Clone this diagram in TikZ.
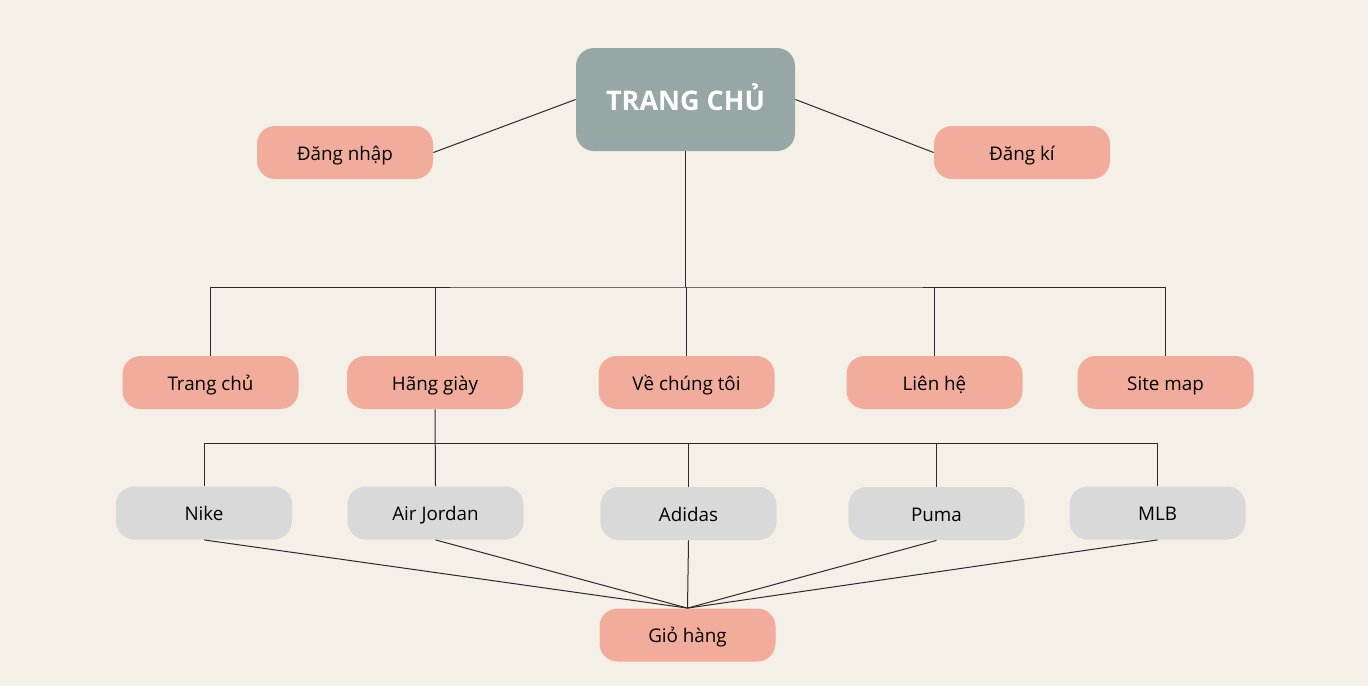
\documentclass[tikz,border=0pt]{standalone}
\usepackage{fontspec}
\setmainfont{Open Sans}
\usetikzlibrary{positioning}
\definecolor{bgcol}{HTML}{F4F0E8}
\definecolor{salmon}{HTML}{F2AC9B}
\definecolor{greybox}{HTML}{D9D9D9}
\definecolor{topcol}{HTML}{96A7A5}
\definecolor{linecol}{HTML}{2A2A2A}
\tikzset{
	pagebox/.style={fill=salmon, rounded corners=9pt, minimum width=88pt, minimum height=26.5pt, inner sep=0pt, text height=9pt, text depth=1.5pt, font=\fontsize{9.4}{11}\selectfont},
	brandbox/.style={pagebox, fill=greybox},
	link/.style={draw=linecol, line width=0.5pt}
}
\begin{document}
\begin{tikzpicture}[x=0.5pt,y=-0.5pt]
	\useasboundingbox[fill=bgcol] (0,0) rectangle (1368,686);
	\node[fill=topcol, rounded corners=9pt, minimum width=109.5pt, minimum height=51.5pt, inner sep=0pt, text height=12pt, text depth=1.5pt, text=white, font=\fontsize{13.5}{15}\bfseries\selectfont] (home) at (685.5,99.5){TRANG CHỦ};
	\node[pagebox] (login) at (345,152.5){Đăng nhập};%left
	\node[pagebox] (signup) at (1022,152.5){Đăng kí};%right
	\node[pagebox] (main) at (210.5,382.5){Trang chủ};
	\node[pagebox] (brands) at (435,382.5){Hãng giày};
	\node[pagebox] (about) at (686.5,382.5){Về chúng tôi};
	\node[pagebox] (contact) at (934.5,382.5){Liên hệ};
	\node[pagebox] (sitemap) at (1165.5,382.5){Site map};
	\node[brandbox] (nike) at (204,513){Nike};
	\node[brandbox] (jordan) at (435.5,513){Air Jordan};
	\node[brandbox] (adidas) at (688.5,513.5){Adidas};
	\node[brandbox] (puma) at (936.5,513.5){Puma};
	\node[brandbox] (mlb) at (1157.5,513){MLB};
	\node[pagebox] (cart) at (687.5,635){Giỏ hàng};
	\coordinate (busA) at (685.5,287);
	\coordinate (busB) at (435,443);
	\draw[link] (home.west) -- (login.east);
	\draw[link] (home.east) -- (signup.west);
	\draw[link] (home.south) -- (busA);
	\draw[link] (main.north) |- (busA) -| (sitemap.north);
	\draw[link] (brands.north) -- (brands.north|-busA);
	\draw[link] (about.north) -- (about.north|-busA);
	\draw[link] (contact.north) -- (contact.north|-busA);
	\draw[link] (brands.south) -- (jordan.north);
	\draw[link] (nike.north) |- (busB) -| (mlb.north);
	\draw[link] (adidas.north) -- (adidas.north|-busB);
	\draw[link] (puma.north) -- (puma.north|-busB);
	\foreach \b in {nike,jordan,adidas,puma,mlb}
		\draw[link] (\b.south) -- (cart.north);
\end{tikzpicture}
\end{document}
